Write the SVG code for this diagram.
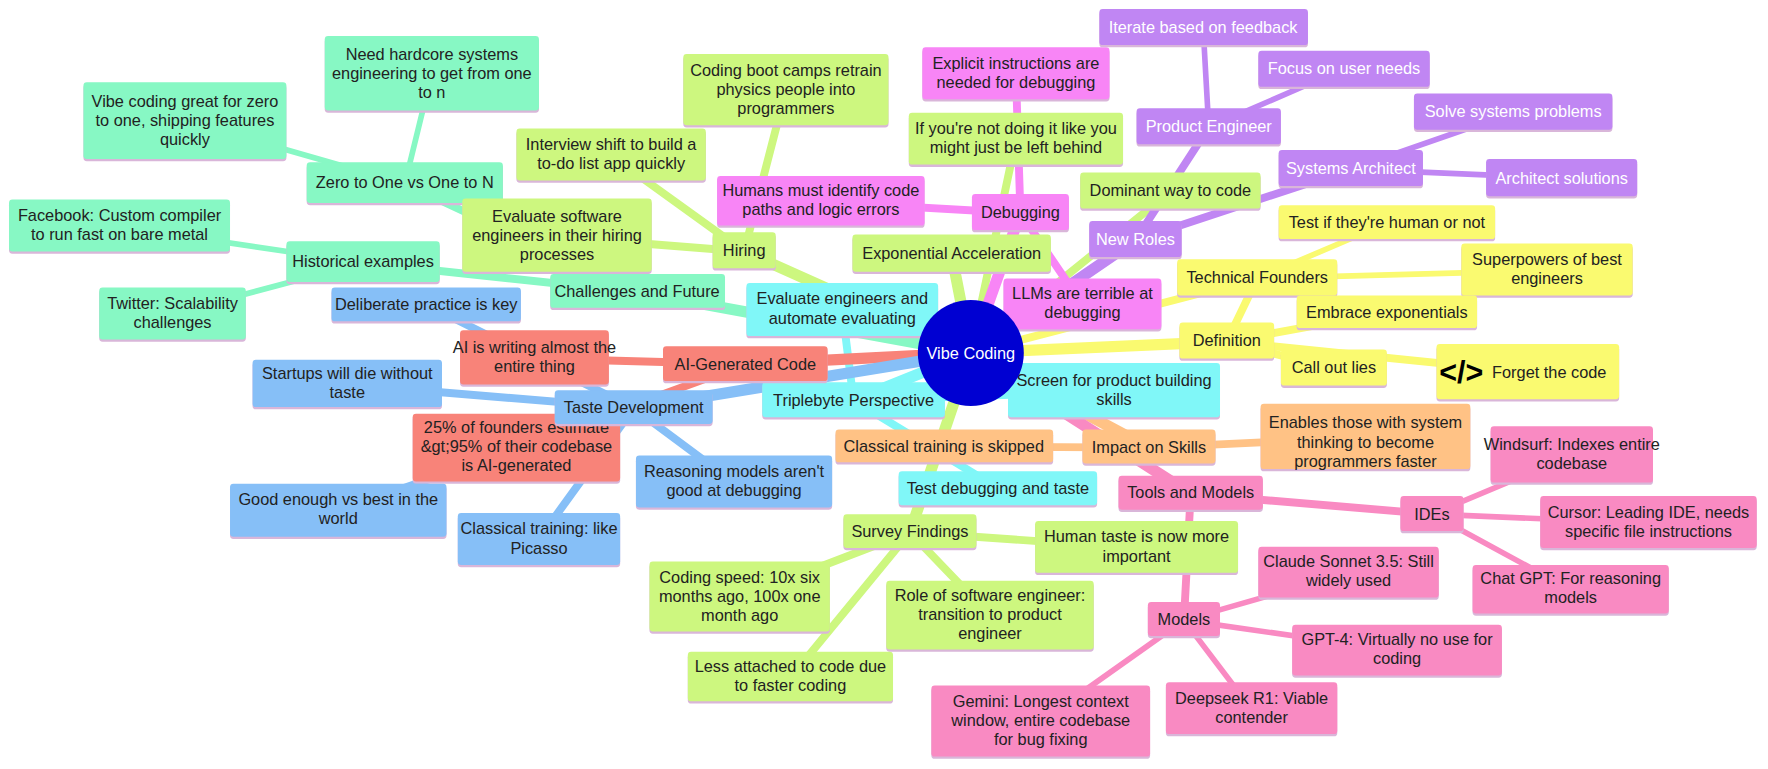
<svg xmlns="http://www.w3.org/2000/svg" width="1768" height="769" viewBox="0 0 1768 769">
<style>
text{font-family:"Liberation Sans",Arial,sans-serif;font-size:14.5px;text-anchor:middle;fill:#222}
.w{fill:#fff}
.e1{stroke-width:10;stroke-linecap:round}
.e2{stroke-width:7;stroke-linecap:round}
.e3{stroke-width:5;stroke-linecap:round}
.teal{fill:#87f8c4}.lg{fill:#cdf77f}.mag{fill:#f885f6}.pur{fill:#c086f3}.yel{fill:#fafa70}.cy{fill:#80f7f8}.sal{fill:#f88379}.blu{fill:#86bff7}.ora{fill:#ffc285}.pnk{fill:#f98ac2}
.steal{stroke:#87f8c4}.slg{stroke:#cdf77f}.smag{stroke:#f885f6}.spur{stroke:#c086f3}.syel{stroke:#fafa70}.scy{stroke:#80f7f8}.ssal{stroke:#f88379}.sblu{stroke:#86bff7}.sora{stroke:#ffc285}.spnk{stroke:#f98ac2}
.b{fill:#d9b6d9}
</style>
<rect width="1768" height="769" fill="#fff"/>
<g transform="scale(1.12755)">
<g id="connectors">
<line class="e1 steal" x1="861" y1="313" x2="565" y2="259"/>
<line class="e2 steal" x1="565" y1="259" x2="359" y2="163"/>
<line class="e3 steal" x1="359" y1="163" x2="383" y2="65"/>
<line class="e3 steal" x1="359" y1="163" x2="164" y2="107"/>
<line class="e2 steal" x1="565" y1="259" x2="322" y2="233"/>
<line class="e3 steal" x1="322" y1="233" x2="106" y2="201"/>
<line class="e3 steal" x1="322" y1="233" x2="153" y2="278"/>
<line class="e1 slg" x1="861" y1="313" x2="660" y2="223"/>
<line class="e2 slg" x1="660" y1="223" x2="697" y2="80"/>
<line class="e2 slg" x1="660" y1="223" x2="542" y2="138"/>
<line class="e2 slg" x1="660" y1="223" x2="494" y2="210"/>
<line class="e1 slg" x1="861" y1="313" x2="844" y2="226"/>
<line class="e2 slg" x1="861" y1="313" x2="901" y2="124"/>
<line class="e2 slg" x1="861" y1="313" x2="1038" y2="170"/>
<line class="e1 slg" x1="861" y1="313" x2="807" y2="472"/>
<line class="e2 slg" x1="807" y1="472" x2="1008" y2="486"/>
<line class="e2 slg" x1="807" y1="472" x2="656" y2="530"/>
<line class="e2 slg" x1="807" y1="472" x2="878" y2="546"/>
<line class="e2 slg" x1="807" y1="472" x2="701" y2="601"/>
<line class="e1 smag" x1="861" y1="313" x2="905" y2="189"/>
<line class="e2 smag" x1="905" y1="189" x2="901" y2="66"/>
<line class="e2 smag" x1="905" y1="189" x2="728" y2="179"/>
<line class="e2 smag" x1="905" y1="189" x2="960" y2="270"/>
<line class="e1 spur" x1="861" y1="313" x2="1007" y2="213"/>
<line class="e2 spur" x1="1007" y1="213" x2="1072" y2="113"/>
<line class="e3 spur" x1="1072" y1="113" x2="1067" y2="24"/>
<line class="e3 spur" x1="1072" y1="113" x2="1192" y2="61"/>
<line class="e2 spur" x1="1007" y1="213" x2="1198" y2="150"/>
<line class="e3 spur" x1="1198" y1="150" x2="1342" y2="100"/>
<line class="e3 spur" x1="1198" y1="150" x2="1385" y2="158"/>
<line class="e1 syel" x1="861" y1="313" x2="1088" y2="303"/>
<line class="e2 syel" x1="1088" y1="303" x2="1115" y2="247"/>
<line class="e3 syel" x1="1115" y1="247" x2="1230" y2="198"/>
<line class="e3 syel" x1="1115" y1="247" x2="1372" y2="240"/>
<line class="e2 syel" x1="1088" y1="303" x2="1230" y2="277"/>
<line class="e2 syel" x1="1088" y1="303" x2="1183" y2="327"/>
<line class="e2 syel" x1="1088" y1="303" x2="1355" y2="330"/>
<line class="e2 syel" x1="861" y1="313" x2="1115" y2="247"/>
<line class="e1 scy" x1="861" y1="313" x2="757" y2="355"/>
<line class="e2 scy" x1="757" y1="355" x2="747" y2="275"/>
<line class="e2 scy" x1="757" y1="355" x2="988" y2="347"/>
<line class="e2 scy" x1="757" y1="355" x2="885" y2="433"/>
<line class="e1 ssal" x1="861" y1="313" x2="661" y2="323"/>
<line class="e2 ssal" x1="661" y1="323" x2="474" y2="318"/>
<line class="e2 ssal" x1="661" y1="323" x2="458" y2="397"/>
<line class="e1 sblu" x1="861" y1="313" x2="562" y2="362"/>
<line class="e2 sblu" x1="562" y1="362" x2="378" y2="270"/>
<line class="e2 sblu" x1="562" y1="362" x2="308" y2="341"/>
<line class="e2 sblu" x1="562" y1="362" x2="651" y2="428"/>
<line class="e2 sblu" x1="562" y1="362" x2="300" y2="453"/>
<line class="e2 sblu" x1="562" y1="362" x2="478" y2="478"/>
<line class="e1 sora" x1="861" y1="313" x2="1019" y2="397"/>
<line class="e2 sora" x1="1019" y1="397" x2="837" y2="396"/>
<line class="e2 sora" x1="1019" y1="397" x2="1211" y2="388"/>
<line class="e1 spnk" x1="861" y1="313" x2="1056" y2="438"/>
<line class="e2 spnk" x1="1056" y1="438" x2="1270" y2="456"/>
<line class="e3 spnk" x1="1270" y1="456" x2="1394" y2="404"/>
<line class="e3 spnk" x1="1270" y1="456" x2="1462" y2="464"/>
<line class="e3 spnk" x1="1270" y1="456" x2="1393" y2="523"/>
<line class="e2 spnk" x1="1056" y1="438" x2="1050" y2="550"/>
<line class="e3 spnk" x1="1050" y1="550" x2="1196" y2="508"/>
<line class="e3 spnk" x1="1050" y1="550" x2="1239" y2="577"/>
<line class="e3 spnk" x1="1050" y1="550" x2="1110" y2="629"/>
<line class="e3 spnk" x1="1050" y1="550" x2="923" y2="640"/>
</g>

<g id="n-need"><rect class="b" x="288" y="34" width="190" height="66" rx="3"/><rect class="teal" x="288" y="32" width="190" height="66" rx="3"/><text x="383" y="53">Need hardcore systems<tspan x="383" dy="17">engineering to get from one</tspan><tspan x="383" dy="17">to n</tspan></text></g>
<g id="n-vibezero"><rect class="b" x="74" y="75" width="180" height="68" rx="3"/><rect class="teal" x="74" y="73" width="180" height="68" rx="3"/><text x="164" y="95">Vibe coding great for zero<tspan x="164" dy="17">to one, shipping features</tspan><tspan x="164" dy="17">quickly</tspan></text></g>
<g id="n-zero"><rect class="b" x="272" y="146" width="174" height="36" rx="3"/><rect class="teal" x="272" y="144" width="174" height="36" rx="3"/><text x="359" y="167">Zero to One vs One to N</text></g>
<g id="n-facebook"><rect class="b" x="8" y="179" width="196" height="46" rx="3"/><rect class="teal" x="8" y="177" width="196" height="46" rx="3"/><text x="106" y="196">Facebook: Custom compiler<tspan x="106" dy="17">to run fast on bare metal</tspan></text></g>
<g id="n-historical"><rect class="b" x="254" y="216" width="136" height="36" rx="3"/><rect class="teal" x="254" y="214" width="136" height="36" rx="3"/><text x="322" y="237">Historical examples</text></g>
<g id="n-twitter"><rect class="b" x="88" y="257" width="130" height="46" rx="3"/><rect class="teal" x="88" y="255" width="130" height="46" rx="3"/><text x="153" y="274">Twitter: Scalability<tspan x="153" dy="17">challenges</tspan></text></g>
<g id="n-challenges"><rect class="b" x="488" y="245" width="155" height="30" rx="3"/><rect class="teal" x="488" y="243" width="155" height="30" rx="3"/><text x="565" y="263">Challenges and Future</text></g>

<g id="n-bootcamps"><rect class="b" x="606" y="50" width="182" height="63" rx="3"/><rect class="lg" x="606" y="48" width="182" height="63" rx="3"/><text x="697" y="67">Coding boot camps retrain<tspan x="697" dy="17">physics people into</tspan><tspan x="697" dy="17">programmers</tspan></text></g>
<g id="n-interview"><rect class="b" x="458" y="116" width="168" height="46" rx="3"/><rect class="lg" x="458" y="114" width="168" height="46" rx="3"/><text x="542" y="133">Interview shift to build a<tspan x="542" dy="17">to-do list app quickly</tspan></text></g>
<g id="n-evalsw"><rect class="b" x="410" y="178" width="168" height="65" rx="3"/><rect class="lg" x="410" y="176" width="168" height="65" rx="3"/><text x="494" y="197">Evaluate software<tspan x="494" dy="17">engineers in their hiring</tspan><tspan x="494" dy="17">processes</tspan></text></g>
<g id="n-hiring"><rect class="b" x="632" y="208" width="56" height="32" rx="3"/><rect class="lg" x="632" y="206" width="56" height="32" rx="3"/><text x="660" y="227">Hiring</text></g>
<g id="n-ifyou"><rect class="b" x="806" y="102" width="190" height="46" rx="3"/><rect class="lg" x="806" y="100" width="190" height="46" rx="3"/><text x="901" y="119">If you're not doing it like you<tspan x="901" dy="17">might just be left behind</tspan></text></g>
<g id="n-dominant"><rect class="b" x="958" y="155" width="160" height="32" rx="3"/><rect class="lg" x="958" y="153" width="160" height="32" rx="3"/><text x="1038" y="174">Dominant way to code</text></g>
<g id="n-exponential"><rect class="b" x="756" y="210" width="176" height="33" rx="3"/><rect class="lg" x="756" y="208" width="176" height="33" rx="3"/><text x="844" y="230">Exponential Acceleration</text></g>
<g id="n-survey"><rect class="b" x="748" y="458" width="118" height="30" rx="3"/><rect class="lg" x="748" y="456" width="118" height="30" rx="3"/><text x="807" y="476">Survey Findings</text></g>
<g id="n-humantaste"><rect class="b" x="918" y="464" width="180" height="46" rx="3"/><rect class="lg" x="918" y="462" width="180" height="46" rx="3"/><text x="1008" y="481">Human taste is now more<tspan x="1008" dy="17">important</tspan></text></g>
<g id="n-codingspeed"><rect class="b" x="576" y="500" width="160" height="62" rx="3"/><rect class="lg" x="576" y="498" width="160" height="62" rx="3"/><text x="656" y="517">Coding speed: 10x six<tspan x="656" dy="17">months ago, 100x one</tspan><tspan x="656" dy="17">month ago</tspan></text></g>
<g id="n-role"><rect class="b" x="786" y="517" width="184" height="61" rx="3"/><rect class="lg" x="786" y="515" width="184" height="61" rx="3"/><text x="878" y="533">Role of software engineer:<tspan x="878" dy="17">transition to product</tspan><tspan x="878" dy="17">engineer</tspan></text></g>
<g id="n-less"><rect class="b" x="610" y="580" width="182" height="44" rx="3"/><rect class="lg" x="610" y="578" width="182" height="44" rx="3"/><text x="701" y="596">Less attached to code due<tspan x="701" dy="17">to faster coding</tspan></text></g>

<g id="n-explicit"><rect class="b" x="818" y="44" width="166" height="46" rx="3"/><rect class="mag" x="818" y="42" width="166" height="46" rx="3"/><text x="901" y="61">Explicit instructions are<tspan x="901" dy="17">needed for debugging</tspan></text></g>
<g id="n-humans"><rect class="b" x="636" y="158" width="184" height="44" rx="3"/><rect class="mag" x="636" y="156" width="184" height="44" rx="3"/><text x="728" y="174">Humans must identify code<tspan x="728" dy="17">paths and logic errors</tspan></text></g>
<g id="n-debugging"><rect class="b" x="862" y="174" width="86" height="32" rx="3"/><rect class="mag" x="862" y="172" width="86" height="32" rx="3"/><text x="905" y="193">Debugging</text></g>
<g id="n-llms"><rect class="b" x="890" y="249" width="140" height="45" rx="3"/><rect class="mag" x="890" y="247" width="140" height="45" rx="3"/><text x="960" y="265">LLMs are terrible at<tspan x="960" dy="17">debugging</tspan></text></g>

<g id="n-iterate"><rect class="b" x="975" y="10" width="185" height="32" rx="3"/><rect class="pur" x="975" y="8" width="185" height="32" rx="3"/><text class="w" x="1067" y="29">Iterate based on feedback</text></g>
<g id="n-focus"><rect class="b" x="1116" y="47" width="152" height="32" rx="3"/><rect class="pur" x="1116" y="45" width="152" height="32" rx="3"/><text class="w" x="1192" y="66">Focus on user needs</text></g>
<g id="n-producteng"><rect class="b" x="1008" y="98" width="128" height="32" rx="3"/><rect class="pur" x="1008" y="96" width="128" height="32" rx="3"/><text class="w" x="1072" y="117">Product Engineer</text></g>
<g id="n-solve"><rect class="b" x="1254" y="85" width="176" height="32" rx="3"/><rect class="pur" x="1254" y="83" width="176" height="32" rx="3"/><text class="w" x="1342" y="104">Solve systems problems</text></g>
<g id="n-sysarch"><rect class="b" x="1134" y="135" width="128" height="32" rx="3"/><rect class="pur" x="1134" y="133" width="128" height="32" rx="3"/><text class="w" x="1198" y="154">Systems Architect</text></g>
<g id="n-architect"><rect class="b" x="1318" y="143" width="134" height="33" rx="3"/><rect class="pur" x="1318" y="141" width="134" height="33" rx="3"/><text class="w" x="1385" y="163">Architect solutions</text></g>
<g id="n-newroles"><rect class="b" x="966" y="198" width="82" height="32" rx="3"/><rect class="pur" x="966" y="196" width="82" height="32" rx="3"/><text class="w" x="1007" y="217">New Roles</text></g>

<g id="n-testhuman"><rect class="b" x="1134" y="184" width="192" height="30" rx="3"/><rect class="yel" x="1134" y="182" width="192" height="30" rx="3"/><text x="1230" y="202">Test if they're human or not</text></g>
<g id="n-techfounders"><rect class="b" x="1044" y="232" width="142" height="32" rx="3"/><rect class="yel" x="1044" y="230" width="142" height="32" rx="3"/><text x="1115" y="251">Technical Founders</text></g>
<g id="n-superpowers"><rect class="b" x="1296" y="218" width="152" height="46" rx="3"/><rect class="yel" x="1296" y="216" width="152" height="46" rx="3"/><text x="1372" y="235">Superpowers of best<tspan x="1372" dy="17">engineers</tspan></text></g>
<g id="n-embrace"><rect class="b" x="1150" y="264" width="160" height="29" rx="3"/><rect class="yel" x="1150" y="262" width="160" height="29" rx="3"/><text x="1230" y="282">Embrace exponentials</text></g>
<g id="n-definition"><rect class="b" x="1046" y="288" width="84" height="32" rx="3"/><rect class="yel" x="1046" y="286" width="84" height="32" rx="3"/><text x="1088" y="307">Definition</text></g>
<g id="n-callout"><rect class="b" x="1136" y="312" width="94" height="32" rx="3"/><rect class="yel" x="1136" y="310" width="94" height="32" rx="3"/><text x="1183" y="331">Call out lies</text></g>
<g id="n-forget"><rect class="b" x="1274" y="307" width="162" height="49" rx="3"/><rect class="yel" x="1274" y="305" width="162" height="49" rx="3"/><text x="1296" y="340" style="font-size:27px;font-weight:bold;fill:#000">&lt;/&gt;</text><text x="1374" y="335">Forget the code</text></g>

<g id="n-evaleng"><rect class="b" x="662" y="253" width="170" height="47" rx="3"/><rect class="cy" x="662" y="251" width="170" height="47" rx="3"/><text x="747" y="270">Evaluate engineers and<tspan x="747" dy="17">automate evaluating</tspan></text></g>
<g id="n-triplebyte"><rect class="b" x="676" y="341" width="162" height="31" rx="3"/><rect class="cy" x="676" y="339" width="162" height="31" rx="3"/><text x="757" y="360">Triplebyte Perspective</text></g>
<g id="n-screen"><rect class="b" x="894" y="324" width="188" height="48" rx="3"/><rect class="cy" x="894" y="322" width="188" height="48" rx="3"/><text x="988" y="342">Screen for product building<tspan x="988" dy="17">skills</tspan></text></g>
<g id="n-testdebug"><rect class="b" x="797" y="420" width="176" height="30" rx="3"/><rect class="cy" x="797" y="418" width="176" height="30" rx="3"/><text x="885" y="438">Test debugging and taste</text></g>

<g id="n-aiwriting"><rect class="b" x="408" y="295" width="132" height="48" rx="3"/><rect class="sal" x="408" y="293" width="132" height="48" rx="3"/><text x="474" y="313">AI is writing almost the<tspan x="474" dy="17">entire thing</tspan></text></g>
<g id="n-aigen"><rect class="b" x="588" y="309" width="146" height="31" rx="3"/><rect class="sal" x="588" y="307" width="146" height="31" rx="3"/><text x="661" y="328">AI-Generated Code</text></g>
<g id="n-founders25"><rect class="b" x="366" y="369" width="184" height="60" rx="3"/><rect class="sal" x="366" y="367" width="184" height="60" rx="3"/><text x="458" y="384">25% of founders estimate<tspan x="458" dy="17">&amp;gt;95% of their codebase</tspan><tspan x="458" dy="17">is AI-generated</tspan></text></g>

<g id="n-deliberate"><rect class="b" x="294" y="257" width="168" height="30" rx="3"/><rect class="blu" x="294" y="255" width="168" height="30" rx="3"/><text x="378" y="275">Deliberate practice is key</text></g>
<g id="n-startups"><rect class="b" x="224" y="321" width="168" height="42" rx="3"/><rect class="blu" x="224" y="319" width="168" height="42" rx="3"/><text x="308" y="336">Startups will die without<tspan x="308" dy="17">taste</tspan></text></g>
<g id="n-taste"><rect class="b" x="492" y="348" width="140" height="30" rx="3"/><rect class="blu" x="492" y="346" width="140" height="30" rx="3"/><text x="562" y="366">Taste Development</text></g>
<g id="n-reasoning"><rect class="b" x="564" y="406" width="174" height="46" rx="3"/><rect class="blu" x="564" y="404" width="174" height="46" rx="3"/><text x="651" y="423">Reasoning models aren't<tspan x="651" dy="17">good at debugging</tspan></text></g>
<g id="n-goodenough"><rect class="b" x="204" y="431" width="192" height="47" rx="3"/><rect class="blu" x="204" y="429" width="192" height="47" rx="3"/><text x="300" y="448">Good enough vs best in the<tspan x="300" dy="17">world</tspan></text></g>
<g id="n-picasso"><rect class="b" x="406" y="457" width="144" height="46" rx="3"/><rect class="blu" x="406" y="455" width="144" height="46" rx="3"/><text x="478" y="474">Classical training: like<tspan x="478" dy="17">Picasso</tspan></text></g>

<g id="n-skipped"><rect class="b" x="741" y="383" width="193" height="29" rx="3"/><rect class="ora" x="741" y="381" width="193" height="29" rx="3"/><text x="837" y="401">Classical training is skipped</text></g>
<g id="n-impact"><rect class="b" x="960" y="383" width="118" height="30" rx="3"/><rect class="ora" x="960" y="381" width="118" height="30" rx="3"/><text x="1019" y="402">Impact on Skills</text></g>
<g id="n-enables"><rect class="b" x="1118" y="360" width="186" height="58" rx="3"/><rect class="ora" x="1118" y="358" width="186" height="58" rx="3"/><text x="1211" y="380">Enables those with system<tspan x="1211" dy="17">thinking to become</tspan><tspan x="1211" dy="17">programmers faster</tspan></text></g>

<g id="n-tools"><rect class="b" x="992" y="424" width="128" height="30" rx="3"/><rect class="pnk" x="992" y="422" width="128" height="30" rx="3"/><text x="1056" y="442">Tools and Models</text></g>
<g id="n-ides"><rect class="b" x="1242" y="442" width="56" height="31" rx="3"/><rect class="pnk" x="1242" y="440" width="56" height="31" rx="3"/><text x="1270" y="461">IDEs</text></g>
<g id="n-windsurf"><rect class="b" x="1322" y="380" width="144" height="50" rx="3"/><rect class="pnk" x="1322" y="378" width="144" height="50" rx="3"/><text x="1394" y="399">Windsurf: Indexes entire<tspan x="1394" dy="17">codebase</tspan></text></g>
<g id="n-cursor"><rect class="b" x="1366" y="442" width="192" height="46" rx="3"/><rect class="pnk" x="1366" y="440" width="192" height="46" rx="3"/><text x="1462" y="459">Cursor: Leading IDE, needs<tspan x="1462" dy="17">specific file instructions</tspan></text></g>
<g id="n-chatgpt"><rect class="b" x="1306" y="503" width="174" height="43" rx="3"/><rect class="pnk" x="1306" y="501" width="174" height="43" rx="3"/><text x="1393" y="518">Chat GPT: For reasoning<tspan x="1393" dy="17">models</tspan></text></g>
<g id="n-claude"><rect class="b" x="1116" y="487" width="160" height="45" rx="3"/><rect class="pnk" x="1116" y="485" width="160" height="45" rx="3"/><text x="1196" y="503">Claude Sonnet 3.5: Still<tspan x="1196" dy="17">widely used</tspan></text></g>
<g id="n-models"><rect class="b" x="1018" y="536" width="64" height="30" rx="3"/><rect class="pnk" x="1018" y="534" width="64" height="30" rx="3"/><text x="1050" y="554">Models</text></g>
<g id="n-gpt4"><rect class="b" x="1146" y="556" width="186" height="45" rx="3"/><rect class="pnk" x="1146" y="554" width="186" height="45" rx="3"/><text x="1239" y="572">GPT-4: Virtually no use for<tspan x="1239" dy="17">coding</tspan></text></g>
<g id="n-deepseek"><rect class="b" x="1034" y="607" width="152" height="46" rx="3"/><rect class="pnk" x="1034" y="605" width="152" height="46" rx="3"/><text x="1110" y="624">Deepseek R1: Viable<tspan x="1110" dy="17">contender</tspan></text></g>
<g id="n-gemini"><rect class="b" x="826" y="610" width="194" height="63" rx="3"/><rect class="pnk" x="826" y="608" width="194" height="63" rx="3"/><text x="923" y="627">Gemini: Longest context<tspan x="923" dy="17">window, entire codebase</tspan><tspan x="923" dy="17">for bug fixing</tspan></text></g>

<g id="n-root"><circle cx="861" cy="313" r="47" fill="#0000d2"/><text class="w" x="861" y="318">Vibe Coding</text></g>
</g>
</svg>
